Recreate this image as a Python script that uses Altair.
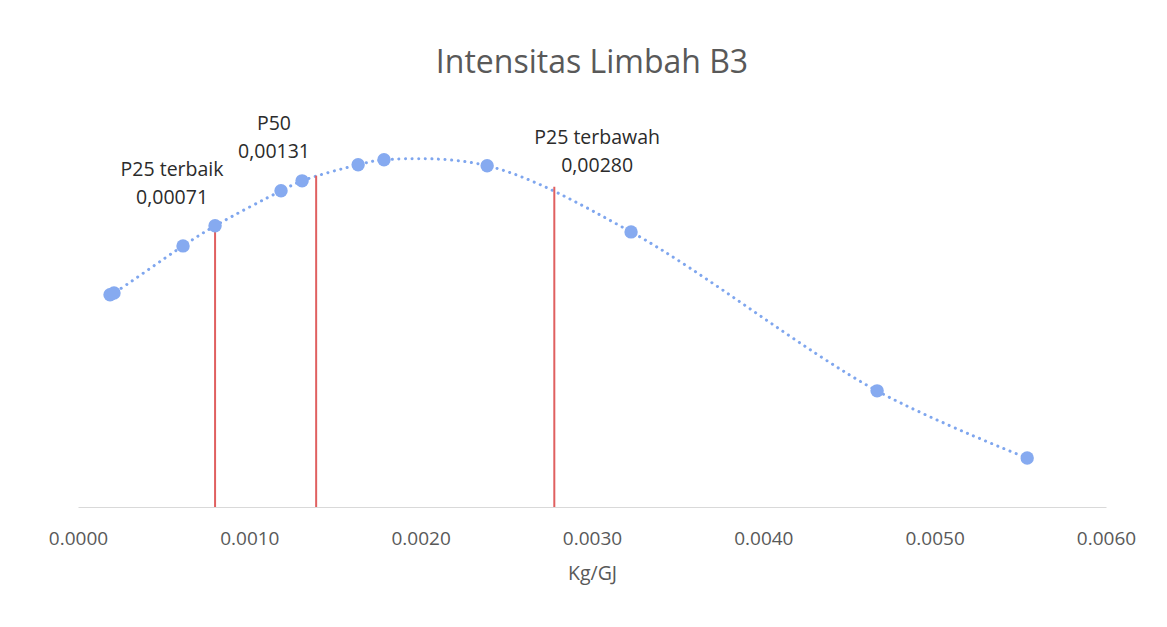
import altair as alt
import pandas as pd

# Data
pts_x = [0.000187, 0.00021, 0.000613, 0.0008, 0.001185, 0.001308, 0.001635,
         0.001786, 0.002388, 0.003228, 0.004664, 0.00554]
pts_y = [136.3, 137.5, 167.7, 180.6, 203.1, 209.5, 219.8, 223.0, 219.2,
         176.7, 74.6, 31.5]

line_x = [0.0008, 0.00139, 0.00278]
line_top = [180.6, 212.7, 205.7]

label_x = [0.000549, 0.000549, 0.001144, 0.001144, 0.00303, 0.00303]
label_y = [216.6, 198.6, 246.2, 228.2, 237.2, 219.2]
label_text = ["P25 terbaik", "0,00071", "P50", "0,00131", "P25 terbawah", "0,00280"]

tick_vals = [0.0, 0.001, 0.002, 0.003, 0.004, 0.005, 0.006]

pts = pd.DataFrame({"x": pts_x, "y": pts_y})
lines = pd.DataFrame({"x": line_x, "y": [0] * len(line_x), "y2": line_top})
labels = pd.DataFrame({"x": label_x, "y": label_y, "t": label_text})

FONT = "Open Sans"

xscale = alt.Scale(domain=[0, 0.006], nice=False, zero=False)
yscale = alt.Scale(domain=[0, 255], nice=False)

xaxis = alt.Axis(values=tick_vals, format=".4f", title="Kg/GJ", labelFontSize=19,
                 labelColor="#595959", labelFont=FONT, labelPadding=22,
                 titleFontSize=19.5, titleColor="#595959", titleFont=FONT,
                 titleFontWeight="normal", titlePadding=16, ticks=False,
                 domainColor="#D9D9D9", domainWidth=1.2, grid=False,
                 labelFlush=False)

X = alt.X("x:Q", scale=xscale, axis=xaxis)
Y = alt.Y("y:Q", scale=yscale, axis=None)

curve = alt.Chart(pts).mark_line(
    interpolate="catmull-rom", color="#7FA6EE", strokeWidth=3,
    strokeDash=[0.1, 6.5], strokeCap="round"
).encode(x=X, y=Y)

red = alt.Chart(lines).mark_rule(color="#E06060", strokeWidth=2).encode(
    x=X, y=Y, y2="y2:Q",
)

dots = alt.Chart(pts).mark_circle(size=180, color="#86AAF0", opacity=1).encode(
    x=X, y=Y,
)

txt = alt.Chart(labels).mark_text(
    fontSize=19.5, color="#2b2b2b", font=FONT, align="center", baseline="middle"
).encode(x=X, y=Y, text="t:N")

chart = alt.layer(curve, red, dots, txt).properties(
    width=1028, height=397,
    background="white",
    title=alt.TitleParams("Intensitas Limbah B3", fontSize=32, color="#595959",
                          font=FONT, fontWeight="normal", anchor="middle", offset=30),
    autosize=alt.AutoSizeParams(type="none"),
    padding={"left": 70, "top": 102, "right": 50, "bottom": 100},
).configure_view(strokeWidth=0, stroke="transparent")

chart.save("out.html", embed_options={"renderer": "svg", "actions": False})
